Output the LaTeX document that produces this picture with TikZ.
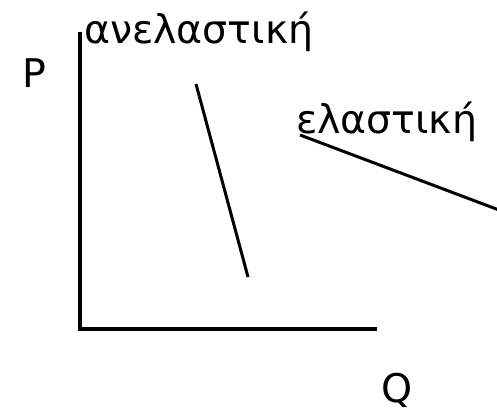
\documentclass[tikz,border=0pt]{standalone}
\usepackage{fontspec}
\setmainfont{DejaVu Sans}
\begin{document}
\begin{tikzpicture}[x=1pt,y=-1pt,
  lbl/.style={anchor=base west,inner sep=0pt,outer sep=0pt,font=\fontsize{39.5}{42}\selectfont},
  axis/.style={line width=4pt},
  curve/.style={line width=3pt}]
\useasboundingbox[fill=white] (0,0) rectangle (497,418);
\coordinate (top) at (80,32);
\coordinate (origin) at (80,329);
\coordinate (right) at (377,329);
\draw[axis] (top) -- (origin) -- (right);
\coordinate (i1) at (196,84);
\coordinate (i2) at (248,277);
\draw[curve] (i1) -- (i2);
\coordinate (e1) at (300,135);
\coordinate (e2) at (499,210);
\draw[curve] (e1) -- (e2);
\node[lbl] (inel) at (84,43) {ανελαστική};
\node[lbl] (el) at (296,133) {ελαστική};
\node[lbl] (P) at (22,87) {P};
\node[lbl] (Q) at (381,402) {Q};
\end{tikzpicture}
\end{document}
